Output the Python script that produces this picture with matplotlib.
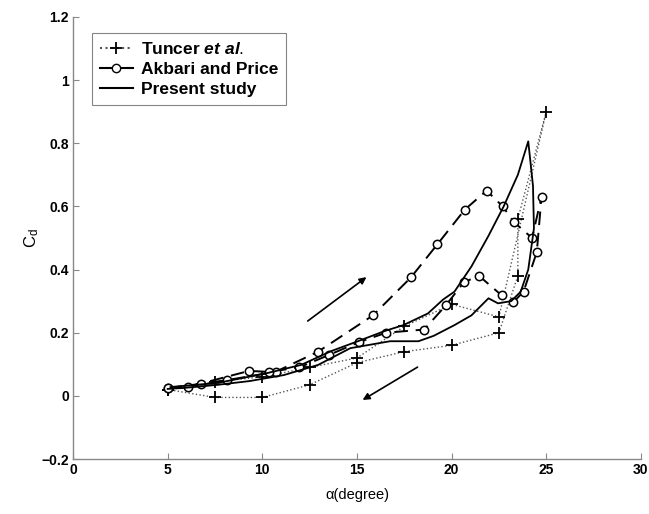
import matplotlib
matplotlib.use("Agg")
import matplotlib.pyplot as plt
from matplotlib.lines import Line2D

plt.rcParams['font.family'] = ['Liberation Sans', 'DejaVu Sans']
plt.rcParams['mathtext.fontset'] = 'custom'
plt.rcParams['mathtext.rm'] = 'Liberation Sans'
plt.rcParams['mathtext.it'] = 'Liberation Sans:italic:bold'
plt.rcParams['mathtext.bf'] = 'Liberation Sans:bold'

# Tuncer et al. (dotted, + markers): upstroke then downstroke
tuncer_alpha = [5, 7.5, 10, 12.5, 15, 17.5, 20, 22.5, 25,
                23.5, 23.5, 22.5, 20, 17.5, 15, 12.5, 10, 7.5, 5]
tuncer_cd = [0.02, 0.045, 0.06, 0.09, 0.12, 0.22, 0.29, 0.25, 0.90,
             0.56, 0.38, 0.20, 0.16, 0.14, 0.105, 0.035, -0.005, -0.005, 0.02]

# Akbari and Price (dashed, open circles)
akbari_alpha = [5.03, 6.75, 8.15, 10.7, 12.95, 15.85, 17.85, 19.25, 20.7, 21.85,
                22.7, 23.3, 24.25, 24.75, 24.5, 23.8, 23.25, 22.65, 21.45, 20.65,
                19.7, 18.55, 16.55, 15.1, 13.5, 11.95, 10.35, 9.3, 6.05, 5.03]
akbari_cd = [0.025, 0.038, 0.05, 0.076, 0.14, 0.255, 0.375, 0.48, 0.59, 0.65,
             0.60, 0.55, 0.50, 0.63, 0.455, 0.33, 0.296, 0.318, 0.38, 0.36,
             0.287, 0.21, 0.20, 0.17, 0.129, 0.09, 0.076, 0.079, 0.028, 0.025]

# Present study (solid)
present_alpha = [5.15, 7.65, 10.25, 12.05, 13.65, 15.05, 16.45, 17.45, 18.75, 19.55,
                 20.15, 21.05, 21.95, 22.75, 23.5, 24.05, 24.3, 24.35, 24.05, 23.65,
                 23.15, 22.45, 21.95, 21.05, 20.15, 19.05, 18.25, 16.75, 14.65, 12.95,
                 11.15, 9.35, 7.65, 5.85, 5.0]
present_cd = [0.028, 0.041, 0.072, 0.098, 0.142, 0.173, 0.205, 0.224, 0.261, 0.305,
              0.33, 0.41, 0.507, 0.60, 0.70, 0.806, 0.665, 0.53, 0.40, 0.33,
              0.30, 0.293, 0.309, 0.255, 0.224, 0.19, 0.173, 0.173, 0.151, 0.098,
              0.066, 0.047, 0.035, 0.025, 0.022]

# direction arrows (tail, head)
arrow_up = [(12.4, 0.237), (15.5, 0.376)]
arrow_down = [(18.2, 0.091), (15.3, -0.013)]

fig = plt.figure(figsize=(6.49, 5.14), dpi=100)
ax = fig.add_axes([0.1125, 0.107, 0.875, 0.86])

ax.plot(tuncer_alpha, tuncer_cd, linestyle=':', color='#555555', linewidth=1.0,
        marker='+', markersize=8, markeredgewidth=1.3, markeredgecolor='black')
ax.plot(akbari_alpha, akbari_cd, linestyle=(0, (7, 4)), color='black', linewidth=1.4,
        marker='o', markersize=6, markerfacecolor='white', markeredgecolor='black',
        markeredgewidth=1.1)
ax.plot(present_alpha, present_cd, '-', color='black', linewidth=1.3)

for tail, head in (arrow_up, arrow_down):
    ax.annotate('', xy=head, xytext=tail,
                arrowprops=dict(arrowstyle='-|>', color='black', lw=1.2,
                                mutation_scale=10, shrinkA=0, shrinkB=0))

ax.set_xlim(0, 30)
ax.set_ylim(-0.2, 1.2)
ax.set_xticks([0, 5, 10, 15, 20, 25, 30])
ax.set_yticks([-0.2, 0, 0.2, 0.4, 0.6, 0.8, 1, 1.2])
ax.set_yticklabels(['\u22120.2', '0', '0.2', '0.4', '0.6', '0.8', '1', '1.2'])

for side in ('top', 'right'):
    ax.spines[side].set_visible(False)
for side in ('left', 'bottom'):
    ax.spines[side].set_color('#888888')
    ax.spines[side].set_linewidth(1.0)
ax.tick_params(direction='in', length=4, color='#888888', labelsize=10, pad=3)
for lbl in ax.get_xticklabels() + ax.get_yticklabels():
    lbl.set_fontweight('bold')

ax.set_xlabel('\u03b1(degree)', fontsize=10.5, labelpad=8)
ax.set_ylabel(r'C$_\mathregular{d}$', fontsize=12, labelpad=0)

handles = [
    Line2D([], [], linestyle=':', color='#555555', marker='+', markersize=8,
           markeredgewidth=1.3, markeredgecolor='black'),
    Line2D([], [], linestyle='-', color='black', marker='o', markersize=6,
           markerfacecolor='white', markeredgecolor='black'),
    Line2D([], [], linestyle='-', color='black'),
]
labels = [r'Tuncer $\mathit{et\ al.}$', 'Akbari and Price', 'Present study']
leg = ax.legend(handles, labels, loc='upper left', bbox_to_anchor=(0.033, 0.964),
                borderaxespad=0, fancybox=False, edgecolor='#666666',
                prop={'weight': 'bold', 'size': 12.5}, handlelength=1.9,
                handletextpad=0.5, labelspacing=0.3, borderpad=0.45)
leg.get_frame().set_linewidth(0.8)

fig.savefig('out.png', dpi=100)
